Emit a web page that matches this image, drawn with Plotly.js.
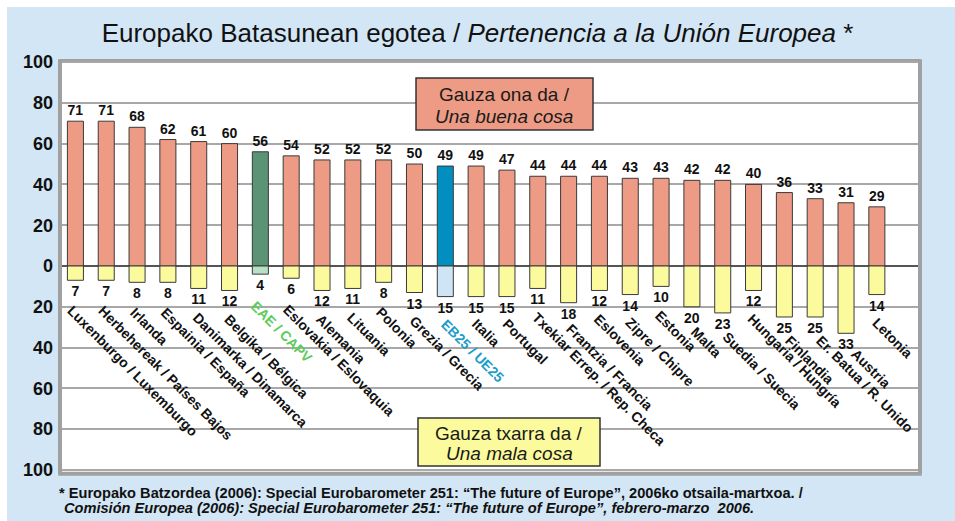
<!DOCTYPE html>
<html><head><meta charset="utf-8">
<script src="https://cdn.plot.ly/plotly-3.0.1.min.js"></script>
<style>html,body{margin:0;padding:0;background:#fff}#chart{width:955px;height:521px}</style>
</head><body><div id="chart"></div>
<script>
const categories = ["Luxenburgo / Luxemburgo","Herbehereak / Países Bajos","Irlanda","Espainia / España","Danimarka / Dinamarca","Belgika / Bélgica","EAE / CAPV","Eslovakia / Eslovaquia","Alemania","Lituania","Polonia","Grezia / Grecia","EB25 / UE25","Italia","Portugal","Txekiar Errep. / Rep. Checa","Frantzia / Francia","Eslovenia","Zipre / Chipre","Estonia","Malta","Suedia / Suecia","Hungaria / Hungría","Finlandia","Er. Batua / R. Unido","Austria","Letonia"];
const goodValues = [71,71,68,62,61,60,56,54,52,52,52,50,49,49,47,44,44,44,43,43,42,42,40,36,33,31,29];
const badValues  = [7,7,8,8,11,12,4,6,12,11,8,13,15,15,15,11,18,12,14,10,20,23,12,25,25,33,14];
const yTickVals = [-100,-80,-60,-40,-20,0,20,40,60,80,100];
const yTickText = ["100","80","60","40","20","0","20","40","60","80","100"];
const regionName = "EAE / CAPV";
const euName = "EB25 / UE25";

const L=60, R=920, T=60, B=472;
const px2x = p => (p-L)/(R-L);
const px2y = p => (B-p)/(B-T);
const pxPerUnit = (B-T)/202;

const FONT = "Liberation Sans, Arial, Helvetica, sans-serif";
const goodColors = categories.map(c => c===regionName ? "#5b9375" : c===euName ? "#008fbf" : "#ee9b85");
const badColors  = categories.map(c => c===regionName ? "#b6dfc6" : c===euName ? "#cfe4f4" : "#fbfa9c");
const labelColors = categories.map(c => c===regionName ? "#5ccc5c" : c===euName ? "#1b9ccb" : "#111111");

const common = {type:"bar", x:categories, width:0.52, textposition:"outside", constraintext:"none", cliponaxis:false,
  textfont:{family:FONT, size:14, weight:"bold", color:"#111"}, hoverinfo:"skip"};
const traces = [
  Object.assign({}, common, {y:goodValues, text:goodValues.map(String), marker:{color:goodColors, line:{color:"#3a3a3a", width:1}}}),
  Object.assign({}, common, {y:badValues.map(v=>-v), text:badValues.map(String), marker:{color:badColors, line:{color:"#3a3a3a", width:1}}})
];

const annotations = categories.map((c,i) => {
  const depth = 0.8*badValues[i] + 15;
  const dyPx = depth*pxPerUnit - 41;
  return {
    x:c, y:-depth, xref:"x", yref:"y", text:"<b>"+c+"</b>", showarrow:false,
    textangle:45, xanchor:"left", yanchor:"top", xshift:-14 + 0.3*dyPx, yshift:8,
    font:{family:FONT, size:14, color:labelColors[i]}
  };
});
const boxFont = {family:FONT, size:19, color:"#1a1a1a"};
const noteFont = {family:FONT, size:14.6, color:"#111"};
annotations.push(
  {xref:"paper", yref:"paper", x:px2x(504), y:px2y(95), xanchor:"center", yanchor:"middle", text:"Gauza ona da /", showarrow:false, font:boxFont},
  {xref:"paper", yref:"paper", x:px2x(504), y:px2y(116), xanchor:"center", yanchor:"middle", text:"<i>Una buena cosa</i>", showarrow:false, font:boxFont},
  {xref:"paper", yref:"paper", x:px2x(509), y:px2y(433), xanchor:"center", yanchor:"middle", text:"Gauza txarra da /", showarrow:false, font:boxFont},
  {xref:"paper", yref:"paper", x:px2x(509), y:px2y(453), xanchor:"center", yanchor:"middle", text:"<i>Una mala cosa</i>", showarrow:false, font:boxFont},
  {xref:"paper", yref:"paper", x:px2x(57), y:px2y(493), xanchor:"left", yanchor:"middle", text:"<b>* Europako Batzordea (2006): Special Eurobarometer 251: “The future of Europe”, 2006ko otsaila-martxoa. /</b>", showarrow:false, font:noteFont},
  {xref:"paper", yref:"paper", x:px2x(62), y:px2y(508), xanchor:"left", yanchor:"middle", text:"<b><i>Comisión Europea (2006): Special Eurobarometer 251: “The future of Europe”, febrero-marzo  2006.</i></b>", showarrow:false, font:noteFont}
);

const shapes = [
  {type:"rect", xref:"paper", yref:"paper", layer:"below", x0:px2x(7), x1:px2x(970), y0:px2y(540), y1:px2y(7), fillcolor:"#d2e6f5", line:{width:0}},
  {type:"rect", xref:"paper", yref:"paper", layer:"below", x0:0, x1:1, y0:0, y1:1, fillcolor:"#ffffff", line:{width:0}},
  {type:"line", xref:"paper", yref:"paper", x0:0, x1:1, y0:1, y1:1, line:{color:"#a0a0a0", width:2}},
  {type:"line", xref:"paper", yref:"paper", x0:0, x1:0, y0:-0.004, y1:1.002, line:{color:"#a0a0a0", width:4}},
  {type:"line", xref:"paper", yref:"paper", x0:1, x1:1, y0:-0.004, y1:1.002, line:{color:"#a0a0a0", width:4}},
  {type:"line", xref:"paper", yref:"paper", x0:-0.002, x1:1.002, y0:-0.004, y1:-0.004, line:{color:"#a0a0a0", width:4}},
  {type:"rect", xref:"paper", yref:"paper", x0:px2x(416), x1:px2x(593), y0:px2y(130), y1:px2y(78), fillcolor:"#ee9b85", line:{color:"#333", width:1.5}},
  {type:"rect", xref:"paper", yref:"paper", x0:px2x(418), x1:px2x(600), y0:px2y(466), y1:px2y(418), fillcolor:"#fbfa9c", line:{color:"#333", width:1.5}}
];

const layout = {
  width:955, height:521, margin:{l:L, r:955-R, t:T, b:521-B},
  paper_bgcolor:"#ffffff", plot_bgcolor:"rgba(0,0,0,0)",
  barmode:"overlay", showlegend:false,
  title:{text:"Europako Batasunean egotea / <i>Pertenencia a la Unión Europea</i> *", x:0.5, xanchor:"center", y:1-33/521, yanchor:"middle",
    font:{family:FONT, size:26, color:"#111"}},
  xaxis:{type:"category", range:[-0.5, 27.4], showticklabels:false, showgrid:false, zeroline:false, showline:false, fixedrange:true},
  yaxis:{range:[-101,101], tickvals:yTickVals, ticktext:yTickText, tickfont:{family:FONT, size:18, weight:"bold", color:"#111"},
    gridcolor:"#a8a8a8", gridwidth:2, zeroline:true, zerolinecolor:"#555", zerolinewidth:2, showline:false, ticklabelstandoff:6, fixedrange:true},
  annotations, shapes,
  font:{family:FONT}
};
Plotly.newPlot("chart", traces, layout, {displayModeBar:false, staticPlot:true});
</script></body></html>
